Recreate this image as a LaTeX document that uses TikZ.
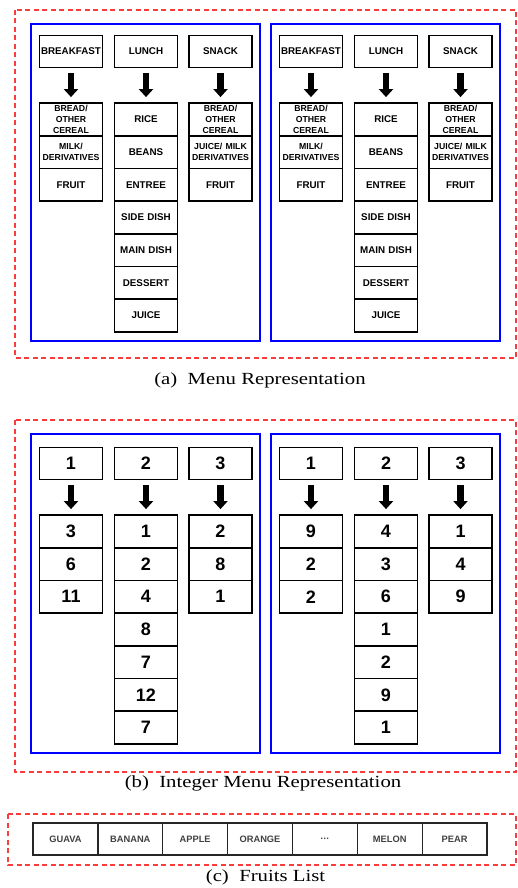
\documentclass[tikz,border=0pt]{standalone}
\usepackage{fontspec}
\usepackage{graphicx}
\setmainfont{Liberation Serif}
\setsansfont{Liberation Sans}
\usetikzlibrary{arrows.meta}
\definecolor{dashred}{RGB}{250,60,60}
\newcommand{\smalltxt}{\fontsize{8.7}{10.7}\selectfont}
\newcommand{\menucol}[5]{\node[head] (#1h) at (#2,#3) {#4};
\foreach \t [count=\i] in {#5} \node[item] (#1\i) at (#2,{#3+51.5+16.35+(\i-1)*32.7}) {\t};
\draw[bigarrow] (#1h) -- (#11);}

\begin{document}
\begin{tikzpicture}[x=1pt, y=-1pt,
head/.style={draw, line width=1.8pt, minimum width=63pt, minimum height=32pt, inner sep=1pt, font=\sffamily\bfseries\fontsize{9.8}{10.7}\selectfont},
item/.style={head, minimum height=32.7pt, text width=61pt, align=center},
bigarrow/.style={-{Triangle[length=8pt,width=14pt]}, line width=6.5pt, shorten <=5pt, shorten >=5pt},
panel/.style={blue, line width=2.5pt},
frame/.style={dashred, line width=1.8pt, dash pattern=on 5pt off 3.5pt},
fruit/.style={draw=black!85, line width=1.3pt, minimum width=64.86pt, minimum height=32pt, inner sep=1pt, text=black!75, font=\sffamily\bfseries\fontsize{9.3}{10}\selectfont},
caption/.style={anchor=base, font=\fontsize{17}{20}\selectfont}]
\useasboundingbox (0,0) rectangle (517,888);
\draw[frame] (15,10) rectangle (516,358);
\draw[panel] (31,24) rectangle (260,341);
\menucol{a1b}{71}{51.5}{BREAKFAST}{{\smalltxt BREAD/\\OTHER\\CEREAL},{\smalltxt MILK/\\DERIVATIVES},FRUIT}
\menucol{a1l}{146}{51.5}{LUNCH}{RICE,BEANS,ENTREE,SIDE DISH,MAIN DISH,DESSERT,JUICE}
\menucol{a1s}{220.5}{51.5}{SNACK}{{\smalltxt BREAD/\\OTHER\\CEREAL},{\smalltxt JUICE/ MILK\\DERIVATIVES},FRUIT}
\begin{scope}[xshift=240pt]
\draw[panel] (31,24) rectangle (260,341);
\menucol{a2b}{71}{51.5}{BREAKFAST}{{\smalltxt BREAD/\\OTHER\\CEREAL},{\smalltxt MILK/\\DERIVATIVES},FRUIT}
\menucol{a2l}{146}{51.5}{LUNCH}{RICE,BEANS,ENTREE,SIDE DISH,MAIN DISH,DESSERT,JUICE}
\menucol{a2s}{220.5}{51.5}{SNACK}{{\smalltxt BREAD/\\OTHER\\CEREAL},{\smalltxt JUICE/ MILK\\DERIVATIVES},FRUIT}
\end{scope}
\node[caption] (capa) at (260,384.5) {\scalebox{1.22}[1]{(a)\enspace Menu Representation}};

\draw[frame] (15,420) rectangle (516,772);
\begin{scope}[head/.append style={font=\sffamily\bfseries\fontsize{18}{20}\selectfont}]
\draw[panel] (31,434) rectangle (260,753);
\menucol{b1b}{71}{463.5}{1}{3,6,11}
\menucol{b1l}{146}{463.5}{2}{1,2,4,8,7,12,7}
\menucol{b1s}{220.5}{463.5}{3}{2,8,1}
\begin{scope}[xshift=240pt]
\draw[panel] (31,434) rectangle (260,753);
\menucol{b2b}{71}{463.5}{1}{9,2,2}
\menucol{b2l}{146}{463.5}{2}{4,3,6,1,2,9,1}
\menucol{b2s}{220.5}{463.5}{3}{1,4,9}
\end{scope}
\end{scope}
\node[caption] (capb) at (263,787) {\scalebox{1.22}[1]{(b)\enspace Integer Menu Representation}};

\draw[frame] (8,814) rectangle (516,865);
\foreach \f [count=\i] in {GUAVA,BANANA,APPLE,ORANGE,\ldots,MELON,PEAR}
\node[fruit] (fr\i) at ({33+32.43+(\i-1)*64.86},839) {\f};
\node[caption] (capc) at (265.5,881.5) {\scalebox{1.22}[1]{(c)\enspace Fruits List}};
\end{tikzpicture}
\end{document}
